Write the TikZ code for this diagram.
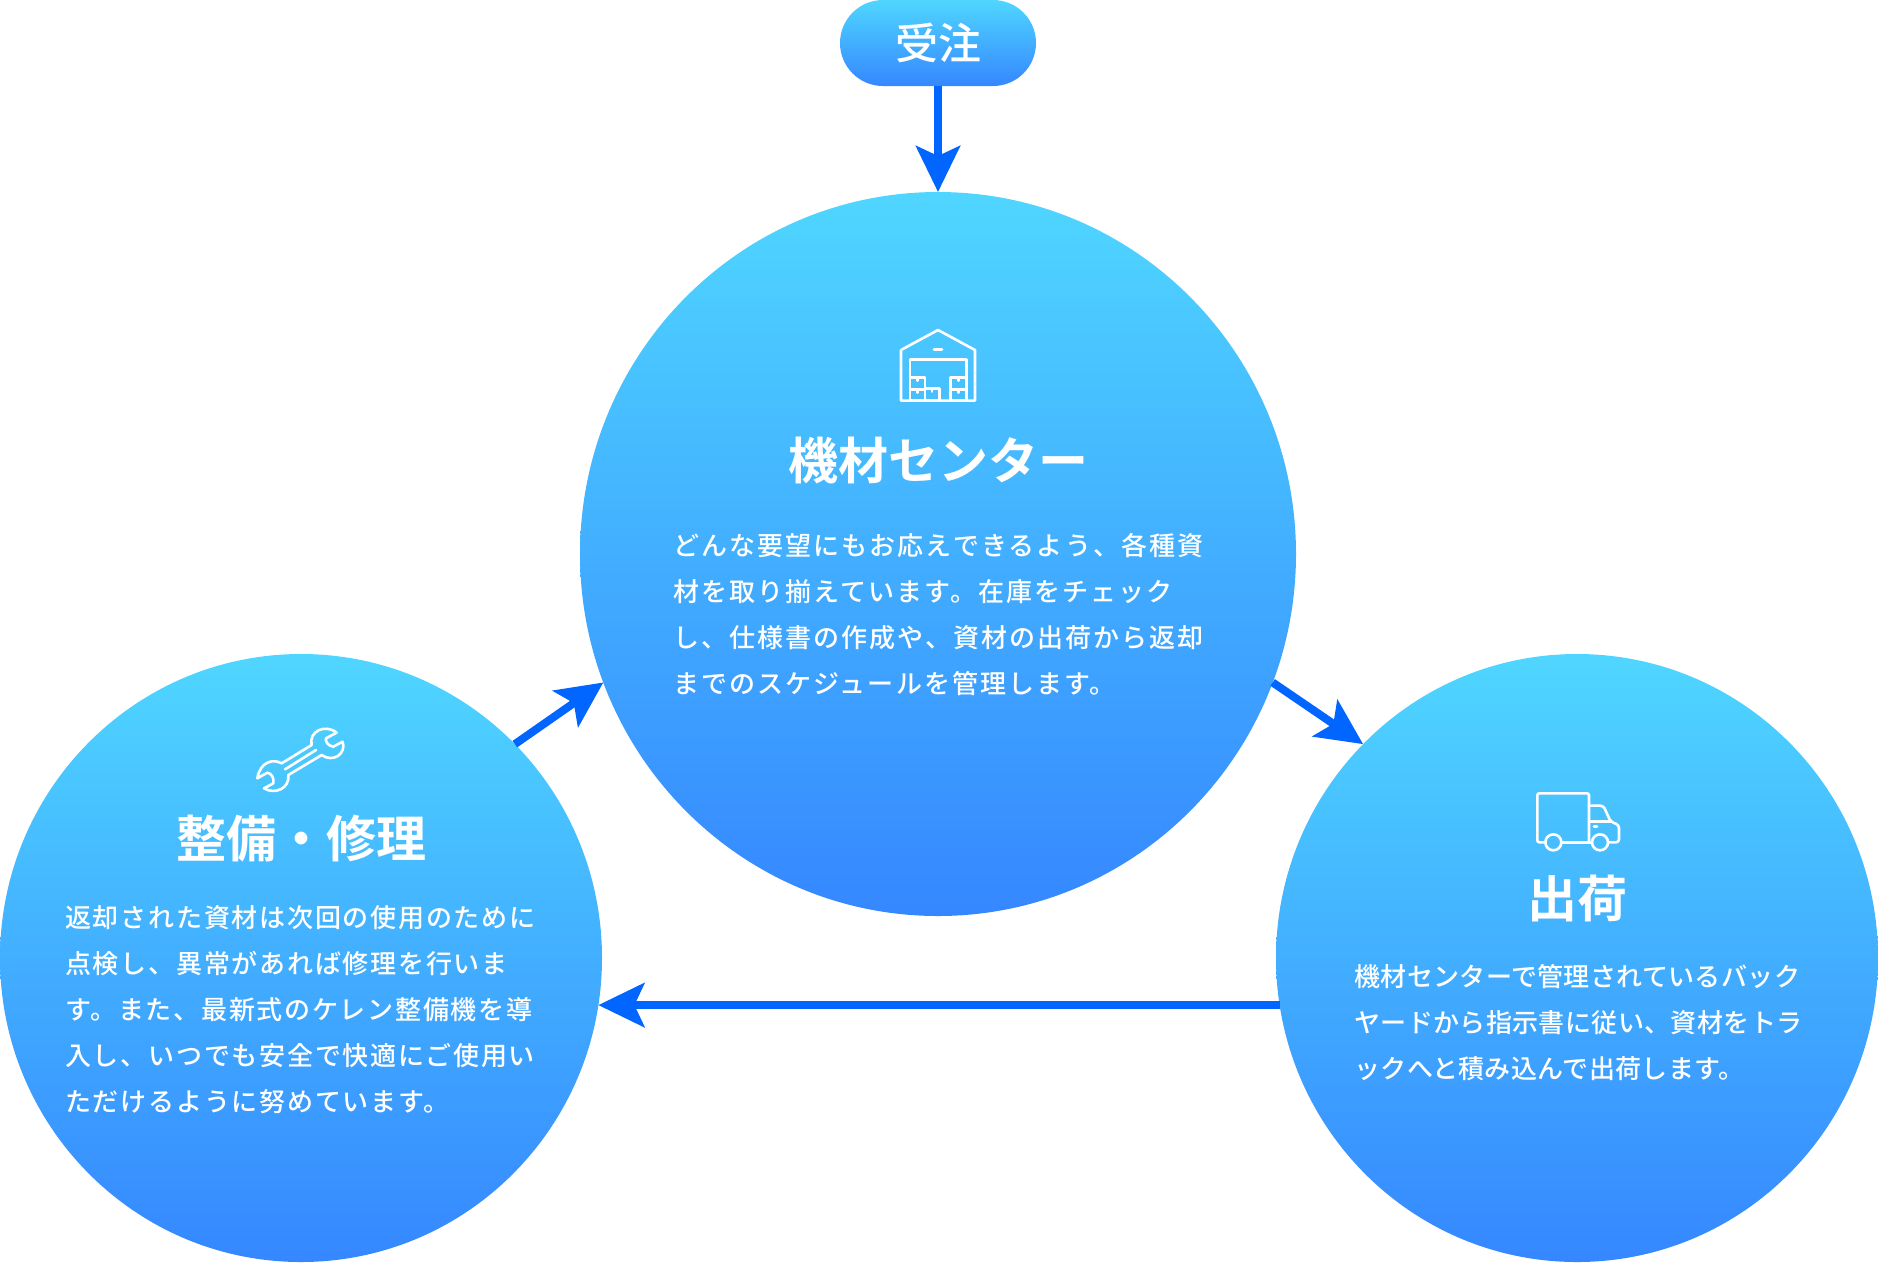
\documentclass[tikz,border=0pt]{standalone}
\usepackage{fontspec}
\newfontfamily\cjk[LetterSpace=8]{Noto Sans CJK JP Medium}
\newfontfamily\cjkmid[LetterSpace=6.8]{Noto Sans CJK JP Medium}
\newfontfamily\cjktight[LetterSpace=1.5]{Noto Sans CJK JP Medium}
\newfontfamily\cjkmed{Noto Sans CJK JP Medium}
\newfontfamily\cjkbold{Noto Sans CJK JP Bold}
\usetikzlibrary{arrows.meta,shapes.geometric}
\definecolor{gradtop}{HTML}{4FD6FF}
\definecolor{gradbot}{HTML}{3587FF}
\definecolor{arrowblue}{HTML}{0066FF}
\tikzset{
  flowcircle/.style={ellipse, inner sep=0pt, outer sep=0pt, top color=gradtop, bottom color=gradbot, draw=none},
  startpill/.style={rectangle, rounded corners=43pt, inner sep=0pt, outer sep=0pt, minimum width=196pt, minimum height=86pt, top color=gradtop, bottom color=gradbot, text=white, font=\fontsize{43}{43}\selectfont\cjkmed},
  headtext/.style={text=white, inner sep=0pt, font=\fontsize{50}{50}\selectfont\cjkbold},
  bodytext/.style={text=white, inner sep=0pt, anchor=west, align=left, font=\fontsize{26}{46}\selectfont\cjk},
  icon/.style={draw=white, line width=2.6pt, line join=round, line cap=round},
  flowarrow/.style={-{Stealth[length=46pt,width=44pt,inset=10pt]}, color=arrowblue, line width=8pt}
}
\begin{document}
\begin{tikzpicture}[x=1pt,y=-1pt]
\useasboundingbox (0,0) rectangle (1878,1262);
% circles
\node[flowcircle, minimum width=716pt, minimum height=724pt] (center) at (938,554) {};
\node[flowcircle, minimum width=602pt, minimum height=608pt] (repair) at (301,958) {};
\node[flowcircle, minimum width=602pt, minimum height=608pt] (ship) at (1577,958) {};
\node[startpill] (order) at (938,43) {\raisebox{1.5pt}{受注}};
% arrows
\path
(order.south) edge[flowarrow] (center.north)
(repair.45) edge[flowarrow] (center.201)
(center.-21) edge[flowarrow] (ship.135)
(ship.189.5) edge[flowarrow] (repair.-9.5)
;
% warehouse icon
\begin{scope}[shift={(860,310)}, x=0.3333pt, y=-0.3333pt]
\draw[icon] (123,272) -- (123,120) -- (234,60) -- (345,120) -- (345,272) -- cycle;
\draw[icon] (150,272) -- (150,148) -- (320,148) -- (320,272);
\draw[icon] (222,118) -- (246,118);
\draw[icon] (150,202) rectangle (195,238);
\draw[icon] (150,238) rectangle (195,272);
\draw[icon] (195,235) rectangle (238,272);
\draw[icon] (272,202) rectangle (320,238);
\draw[icon] (272,238) rectangle (320,272);
\draw[icon] (172,202) -- (172,212);
\draw[icon] (172,238) -- (172,248);
\draw[icon] (216,235) -- (216,245);
\draw[icon] (296,202) -- (296,212);
\draw[icon] (296,238) -- (296,248);
\end{scope}
% wrench icon
\begin{scope}[shift={(240,710)}, x=0.3333pt, y=-0.3333pt]
\draw[icon] (215,105) -- (125,160)
.. controls (100,145) and (60,155) .. (52,205)
-- (82,188) .. controls (95,190) and (103,205) .. (100,220)
-- (72,235) .. controls (105,255) and (150,235) .. (145,195)
-- (245,135) .. controls (280,160) and (320,130) .. (308,95)
-- (280,110) .. controls (265,108) and (255,95) .. (258,85)
-- (290,68) .. controls (255,40) and (205,65) .. cycle;
\draw[icon] (135,178) -- (228,120);
\end{scope}
% truck icon
\begin{scope}[shift={(1520,780)}, x=0.3333pt, y=-0.3333pt]
\draw[icon, rounded corners=2pt] (76,187) -- (52,187) -- (52,40) -- (207,40) -- (207,187);
\draw[icon] (124,187) -- (216,187);
\draw[icon, rounded corners=3pt] (207,77) -- (250,77) -- (272,125) -- (297,135) -- (297,187) -- (264,187);
\draw[icon] (207,125) -- (272,125);
\draw[icon] (222,139) -- (231,139);
\draw[icon] (100,187) circle[radius=24];
\draw[icon] (240,187) circle[radius=24];
\end{scope}
% texts
\node[headtext] (centerhead) at (938,460) {機材センター};
\node[headtext] (repairhead) at (301,839) {整備・修理};
\node[headtext] (shiphead) at (1577,898) {出荷};
\node[bodytext] (centerbody) at (673,615) {どんな要望にもお応えできるよう、各種資\\材を取り揃えています。在庫をチェック\\し、仕様書の作成や、資材の出荷から返却\\までのスケジュールを管理します。};
\node[bodytext, font=\fontsize{26}{46}\selectfont\cjkmid] (repairbody) at (65,1009.5) {返却された資材は次回の使用のために\\点検し、異常があれば修理を行いま\\す。また、最新式のケレン整備機を導\\入し、いつでも安全で快適にご使用い\\ただけるように努めています。};
\node[bodytext, font=\fontsize{26}{46}\selectfont\cjktight] (shipbody) at (1354,1022.5) {機材センターで管理されているバック\\ヤードから指示書に従い、資材をトラ\\ックへと積み込んで出荷します。};
\end{tikzpicture}
\end{document}
